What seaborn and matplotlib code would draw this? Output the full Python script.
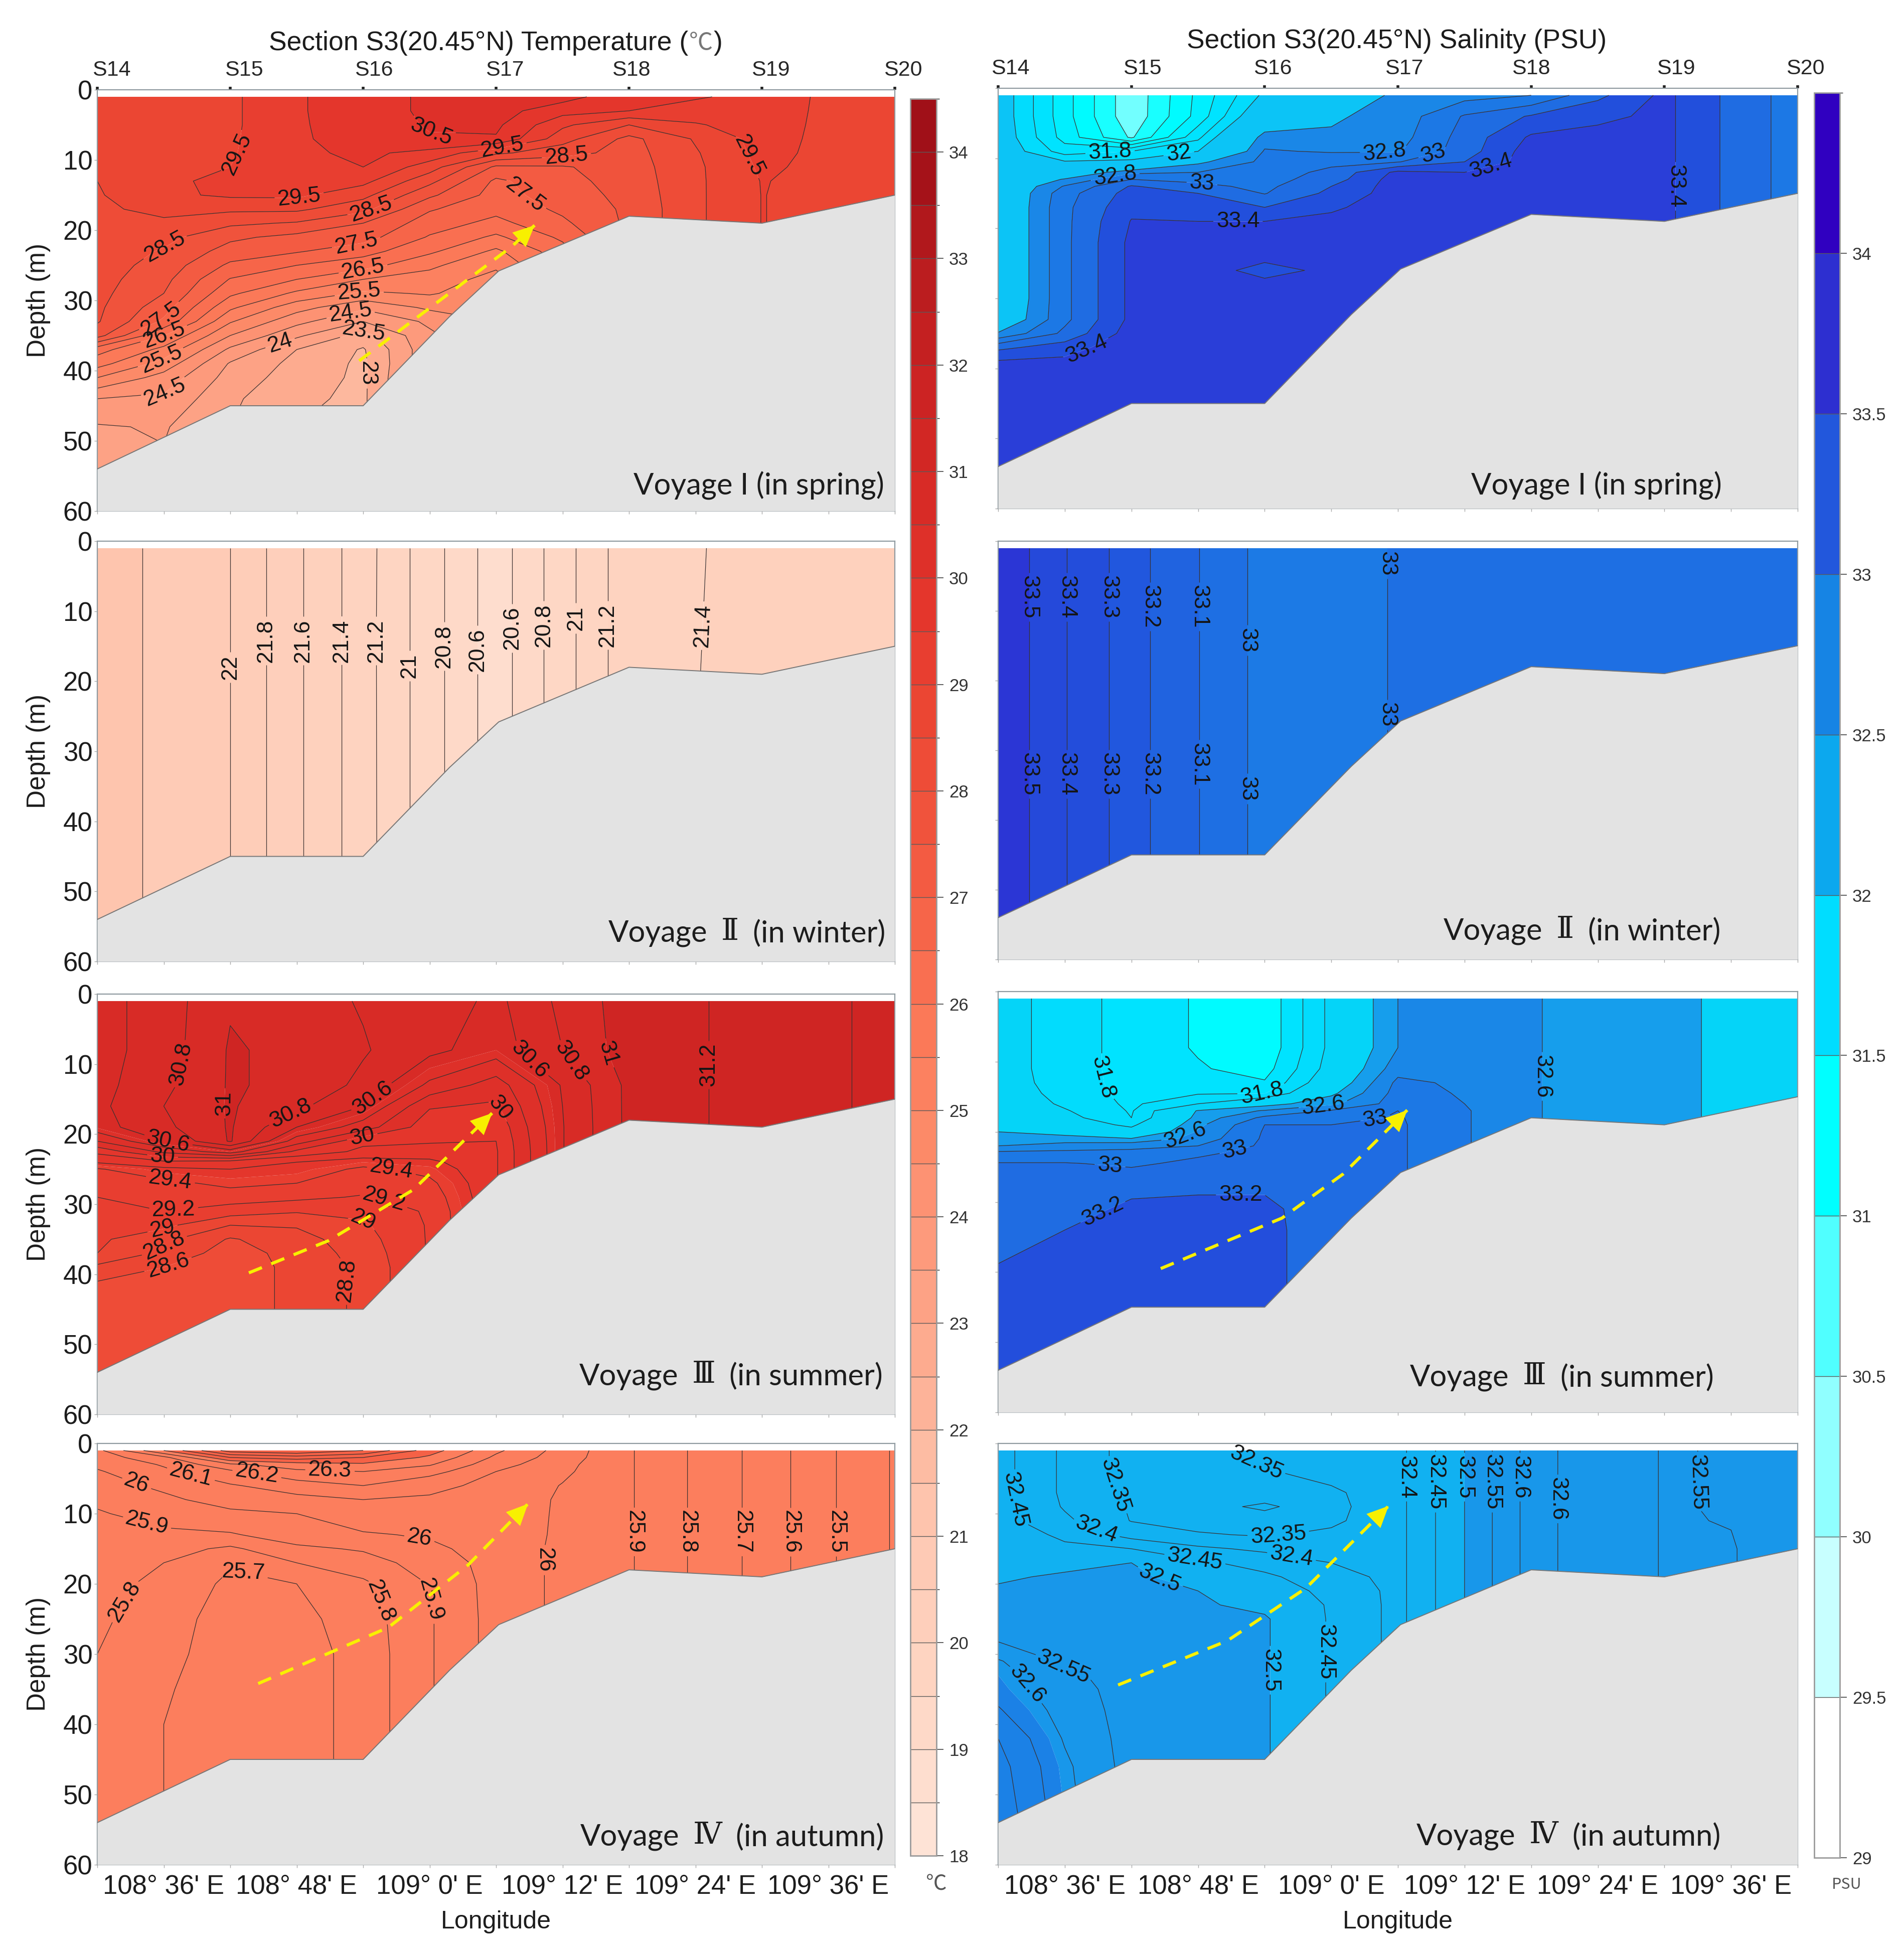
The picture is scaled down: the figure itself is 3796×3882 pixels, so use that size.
import numpy as np
import seaborn as sns
import matplotlib.pyplot as plt
from matplotlib.cm import ScalarMappable
from matplotlib.colors import BoundaryNorm, LinearSegmentedColormap, ListedColormap, Normalize
from matplotlib.transforms import ScaledTranslation

sns.set_theme(style="white")
plt.rcParams["font.family"] = ["Liberation Sans", "Noto Sans CJK SC"]
plt.rcParams["axes.unicode_minus"] = False

W, H = 3796, 3882

# x positions are station numbers counted from S14
half_st = [0, .5, 1, 1.5, 2, 2.5, 3, 3.5, 4, 4.5, 5, 5.5, 6]
stations = ["S14", "S15", "S16", "S17", "S18", "S19", "S20"]
lon_labels = ["108° 36' E", "108° 48' E", "109° 0' E", "109° 12' E", "109° 24' E", "109° 36' E"]
bottom_st = [0, 1, 2, 2.65, 3.02, 4, 5, 6]
bottom_depth = [54, 45, 45, 32.3, 25.8, 18, 19, 15]

# ---- temperature, voyage I
t1_z = [1, 3, 5, 7, 9, 11, 13, 15, 17, 19, 21, 23, 25, 27, 29, 31, 33, 35, 37, 39, 41, 44, 48, 60]
t1_cols = [
    [29.3, 29.3, 29.3, 29.25, 29.2, 29.1, 29, 28.95, 28.9, 28.85, 28.8, 28.8, 28.75, 28.7, 28.65, 28.6, 28.55, 28.2, 26.7, 26.2, 25.5, 24.5, 23.95, 23.9],
    [29.4, 29.4, 29.4, 29.4, 29.4, 29.4, 29.42, 29.4, 29.15, 28.9, 28.65, 28.45, 28.3, 28.15, 28, 27.72, 27.4, 26.5, 25.85, 25.3, 24.8, 24.4, 24.05, 23.8],
    [29.4, 29.4, 29.4, 29.42, 29.45, 29.5, 29.6, 29.58, 29.1, 28.6, 28.1, 27.8, 27.4, 26.97, 26.6, 26.1, 25.55, 25, 24.4, 23.95, 23.8, 23.6, 23.5, 23.4],
    [29.95, 29.95, 29.95, 29.95, 29.9, 29.8, 29.7, 29.6, 29.1, 28.45, 27.85, 27.55, 27, 26.5, 25.9, 25.2, 24.65, 24.1, 23.5, 23.35, 23.25, 23.1, 23, 23],
    [30.25, 30.25, 30.2, 30.15, 30.1, 30, 29.65, 29.15, 28.65, 28, 27.7, 27.2, 26.7, 26, 25.4, 24.6, 24, 23.3, 22.95, 22.9, 22.9, 22.9, 22.9, 22.9],
    [30.6, 30.6, 30.55, 30.45, 29.85, 29.25, 28.65, 28.1, 27.55, 27.25, 26.95, 26.6, 26.1, 25.8, 25.55, 25.1, 24.6, 24.4, 24.37, 24.4, 24.5, 24.6, 24.6, 24.6],
    [30.75, 30.7, 30.6, 30.45, 29.1, 27.9, 27.4, 27.3, 27.15, 26.85, 26.4, 25.9, 25.6, 25.3, 25.2, 25.1, 25, 25, 25, 25, 25, 25, 25, 25],
    [30.7, 30.2, 29.6, 29.2, 28.7, 27.95, 27.85, 27.75, 27.6, 27.4, 27.1, 26.8, 26.6, 26.5] + [26.5] * 10,
    [30.15, 30, 29, 28.35, 28.3, 28.25, 28.2, 28.15, 28.1] + [28.1] * 15,
    [30.05, 29.8, 29.45, 29.05, 28.95, 28.9] + [28.9] * 18,
    [29.85, 29.8, 29.75, 29.7, 29.65, 29.58, 29.52] + [29.51] * 17,
    [29.37] * 24,
    [29.3] * 24,
]
t1_levels = [23, 23.5, 24, 24.5, 25, 25.5, 26, 26.5, 27, 27.5, 28, 28.5, 29, 29.5, 30, 30.5]
t1_fill = [22, 23, 23.5, 24, 24.5, 25, 25.5, 26, 26.5, 27, 27.5, 28, 28.5, 29, 29.5, 30, 30.5, 31]
t1_labels = [(29.5, 1.07, 9.3), (30.5, 2.51, 6.8), (29.5, 3.05, 8.5), (28.5, 3.53, 9.5), (29.5, 4.89, 9.5),
             (29.5, 1.52, 15.4), (27.5, 3.22, 15), (28.5, 2.07, 17.5), (28.5, .49, 21.8), (27.5, 1.95, 22),
             (26.5, 2.0, 25.6), (25.5, 1.97, 28.8), (24.5, 1.9, 31.3), (23.5, 2.0, 34.8), (24, 1.37, 35.8),
             (23, 2.04, 40.4), (27.5, .48, 32.6), (26.5, .51, 35.2), (25.5, .48, 38.3), (24.5, .49, 42.6)]
t1_arrow = ([1.97, 3.12, 3.29], [38.6, 22.3, 19.3])

# ---- temperature, voyage II
t2_st = [0, .34, 1, 1.27, 1.55, 1.84, 2.1, 2.35, 2.61, 2.86, 2.99, 3.12, 3.36, 3.6, 3.84, 4.88, 6]
t2_z = [1, 60]
t2_top = [22.3, 22.2, 22, 21.8, 21.6, 21.4, 21.2, 21, 20.8, 20.6, 20.5, 20.6, 20.8, 21, 21.2, 21.48, 21.55]
t2_deep = [22.3, 22.2, 22, 21.8, 21.6, 21.4, 21.2, 21, 20.8, 20.6, 20.5, 20.6, 20.8, 21, 21.2, 21.55, 21.6]
t2_levels = [20.6, 20.8, 21, 21.2, 21.4, 21.6, 21.8, 22, 22.2]
t2_fill = [20, 20.6, 20.8, 21, 21.2, 21.4, 21.6, 21.8, 22, 22.2, 23]
t2_labels = [(22, 1.0, 18), (21.8, 1.27, 14.2), (21.6, 1.55, 14.2), (21.4, 1.84, 14.2), (21.2, 2.1, 14.2),
             (21, 2.35, 17.8), (20.8, 2.61, 15), (20.6, 2.86, 15.5), (20.6, 3.12, 12.4), (20.8, 3.36, 12),
             (21, 3.6, 11), (21.2, 3.84, 12), (21.4, 4.48, 12)]

# ---- temperature, voyage III
t3_z = [1, 8, 13, 16, 19, 21, 22.5, 24, 25, 27, 29, 31, 33, 35, 37, 39, 41, 44, 60]
t3_cols = [
    [30.52, 30.52, 30.53, 30.55, 30.52, 30.2, 29.85, 29.62, 29.38, 29.3, 29.2, 29.12, 29.08, 29.04, 29, 28.75, 28.6, 28.58, 28.5],
    [30.7, 30.7, 30.75, 30.8, 30.75, 30.6, 30.25, 29.75, 29.55, 29.35, 29.25, 29.2, 29.05, 28.85, 28.75, 28.6, 28.58, 28.55, 28.5],
    [30.98, 31.02, 31.02, 31.02, 31.02, 31.02, 30.5, 29.7, 29.6, 29.45, 29.3, 29.1, 28.8, 28.58, 28.5, 28.5, 28.5, 28.5, 28.5],
    [30.9, 30.95, 30.95, 30.85, 30.6, 30.3, 29.95, 29.6, 29.55, 29.4, 29.25, 29.02, 28.82, 28.72, 28.68, 28.65, 28.65, 28.65, 28.65],
    [30.78, 30.82, 30.75, 30.6, 30.3, 29.85, 29.75, 29.5, 29.35, 29.3, 29.18, 29.05, 28.97, 28.92, 28.88, 28.85, 28.85, 28.85, 28.85],
    [30.72, 30.65, 30.36, 30.02, 29.88, 29.82, 29.72, 29.55, 29.47, 29.35, 29.28, 29.23] + [29.22] * 7,
    [30.55, 30.5, 30.1, 29.97, 29.85, 29.8] + [29.78] * 13,
    [30.85, 30.8, 30.62, 30.6, 30.59] + [30.59] * 14,
    [31.1, 31.1] + [31.05] * 17,
    [31.18] * 19,
    [31.28] * 19,
    [31.28] * 19,
    [31.05] * 19,
]
t3_levels = [28.6, 28.8, 29, 29.2, 29.4, 29.6, 29.8, 30, 30.2, 30.4, 30.6, 30.8, 31, 31.2]
t3_fill = [28, 28.6, 29, 29.5, 30, 30.5, 31, 32]
t3_labels = [(30.8, .66, 10.1), (31, .97, 15.6), (30.8, 1.48, 17.9), (30.6, 2.08, 15.1), (30.6, 3.27, 9),
             (30.8, 3.58, 9.4), (31, 3.8, 8.8), (31.2, 4.59, 10.1), (30, 3.16, 15.1), (30, 1.98, 19.2),
             (30.6, .53, 21.4), (30, .49, 23.4), (29.4, .55, 26.5), (29.2, .57, 30.2), (29, .48, 32.5),
             (28.8, .51, 36.1), (28.6, .54, 39.1), (29.4, 2.22, 24.5), (29.2, 2.17, 28.6), (29, 2.0, 32.3),
             (28.8, 1.84, 40.9)]
t3_arrow = ([1.14, 1.74, 2.38, 2.97], [39.8, 35.2, 27.9, 17])

# ---- temperature, voyage IV
t4_z = [1, 2, 3, 4, 6, 8, 10, 13, 15, 17, 20, 25, 30, 35, 40, 50, 60]
t4_cols = [
    [26.07, 26.05, 26.02, 25.99, 25.96, 25.92, 25.89, 25.87, 25.86, 25.85, 25.84, 25.82, 25.8, 25.78, 25.77, 25.76, 25.75],
    [26.4, 26.17, 26.11, 26.08, 26.02, 25.98, 25.94, 25.88, 25.84, 25.8, 25.77, 25.74, 25.73, 25.71, 25.7, 25.7, 25.7],
    [26.75, 26.5, 26.28, 26.18, 26.09, 26.04, 25.98, 25.89, 25.78, 25.71, 25.68, 25.66, 25.65, 25.65, 25.65, 25.65, 25.65],
    [26.8, 26.55, 26.35, 26.28, 26.15, 26.07, 26, 25.95, 25.88, 25.8, 25.7, 25.67, 25.65, 25.65, 25.65, 25.65, 25.65],
    [26.7, 26.5, 26.38, 26.3, 26.2, 26.1, 26.06, 25.99, 25.91, 25.86, 25.78, 25.75, 25.74, 25.74, 25.74, 25.74, 25.74],
    [26.45, 26.38, 26.31, 26.24, 26.12, 26.09, 26.05, 26.01, 25.98, 25.94, 25.905, 25.89, 25.89, 25.89, 25.89, 25.89, 25.89],
    [26.22, 26.18, 26.14, 26.1, 26.08, 26.07, 26.06, 26.05, 26.04] + [26.04] * 8,
    [26.06, 26.05, 26.03, 26.02, 25.995] + [25.985] * 12,
    [25.91] * 17,
    [25.785] * 17,
    [25.664] * 17,
    [25.515] * 17,
    [25.39] * 17,
]
t4_levels = [25.4, 25.5, 25.6, 25.7, 25.8, 25.9, 26, 26.1, 26.2, 26.3, 26.4, 26.5, 26.6, 26.7]
t4_fill = [25, 26.4, 28]
t4_labels = [(26, .3, 5.5), (26.1, .7, 4.7), (26.2, 1.2, 4.4), (26.3, 1.75, 4.1), (25.9, .37, 11.6), (26, 2.42, 14),
             (25.8, .27, 23.2), (25.7, 1.1, 18.4), (25.8, 2.14, 22.4), (25.9, 2.47, 22.4), (26, 3.34, 16.6),
             (25.9, 4.04, 12.6), (25.8, 4.44, 12.6), (25.7, 4.85, 12.6), (25.6, 5.21, 12.6), (25.5, 5.58, 12.6)]
t4_arrow = ([1.21, 2.19, 2.79, 3.24], [34.2, 26.2, 17.3, 8.6])

# ---- salinity, voyage I
s1_z = [1, 4, 7, 9, 10.5, 12, 13, 14, 15, 17, 19, 22, 24.5, 26, 27.5, 30, 33, 35, 37, 39, 42, 60]
s1_cols = [
    [32.16, 32.16, 32.18, 32.2, 32.25] + [32.3] * 11 + [32.35, 32.62, 33.15, 33.42, 33.6, 33.65],
    [31.48, 31.48, 31.52, 31.7, 32.02, 32.35, 32.62, 32.82, 32.92] + [32.95] * 8 + [33.05, 33.3, 33.45, 33.55, 33.6],
    [30.85, 30.85, 30.97, 31.8, 32.05, 32.75, 33, 33.22, 33.28, 33.35, 33.41] + [33.45] * 6 + [33.5, 33.55, 33.6, 33.62, 33.65],
    [31.45, 31.47, 31.75, 32, 32.55, 32.8, 32.95, 33.05, 33.2, 33.3, 33.4, 33.45, 33.5, 33.6, 33.5, 33.45, 33.45, 33.5, 33.5, 33.5, 33.5, 33.5],
    [32.05, 32.3, 32.7, 32.82, 32.85, 32.9, 32.92, 32.95, 32.99, 33.2, 33.4, 33.45, 33.45, 33.25, 33.45, 33.45, 33.45, 33.5, 33.5, 33.5, 33.5, 33.5],
    [32.4, 32.57, 32.63, 32.78, 32.95, 33.05, 33.1, 33.2, 33.25, 33.37, 33.45] + [33.5] * 11,
    [32.65, 32.68, 32.72, 32.78, 32.99, 33.45] + [33.5] * 16,
    [32.72, 33.02, 33.08, 33.1, 33.2, 33.4] + [33.5] * 16,
    [32.8, 33.22, 33.43] + [33.5] * 19,
    [33.15, 33.35, 33.47] + [33.5] * 19,
    [33.45] * 22,
    [33.15] * 22,
    [32.9] * 22,
]
s1_levels = [31, 31.2, 31.4, 31.6, 31.8, 32, 32.6, 32.8, 33, 33.2, 33.4]
s1_fill = [30, 31, 31.2, 31.4, 31.6, 31.8, 32, 32.6, 32.8, 33, 33.2, 33.4, 34]
s1_labels = [(31.8, .84, 9.2), (32, 1.35, 8.5), (32.8, .88, 12.8), (33, 1.53, 13.5), (33.4, 1.8, 19), (32.8, 2.9, 9.6),
             (33, 3.27, 9.7), (33.4, 3.7, 11.3), (33.4, .66, 37.1), (33.4, 5.05, 14)]

# ---- salinity, voyage II
s2_st = [0, .234, .514, .833, 1.14, 1.51, 1.87, 2.4, 2.92, 6]
s2_z = [1, 60]
s2_row = [33.58, 33.5, 33.4, 33.3, 33.2, 33.1, 33, 32.95, 33, 33.05]
s2_levels = [33, 33.1, 33.2, 33.3, 33.4, 33.5]
s2_fill = [32.7, 33, 33.1, 33.2, 33.3, 33.4, 33.5, 34]
s2_labels = [(33.5, .23, 8), (33.5, .23, 33.4), (33.4, .51, 8), (33.4, .51, 33.4), (33.3, .83, 8), (33.3, .83, 33.4),
             (33.2, 1.14, 9.4), (33.2, 1.14, 33.4), (33.1, 1.51, 9.4), (33.1, 1.51, 32), (33, 1.87, 14.2),
             (33, 1.87, 35.5), (33, 2.92, 3.2), (33, 2.92, 24.9)]

# ---- salinity, voyage III
s3_z = [1, 8, 11, 13, 14.5, 16, 17, 18, 19, 20, 21, 22, 23, 24.5, 27, 29, 31, 34, 37, 40, 44, 60]
s3_cols = [
    [32.1, 32.1, 32.1, 32.12, 32.15, 32.2, 32.22, 32.25, 32.3, 32.4, 32.5, 32.6, 32.85, 33.01, 33.05, 33.07, 33.09, 33.12, 33.17, 33.22, 33.25, 33.3],
    [31.9, 31.9, 31.9, 31.9, 31.92, 31.96, 32.02, 32.08, 32.15, 32.3, 32.5, 32.68, 32.86, 33.01, 33.05, 33.07, 33.1, 33.2, 33.25, 33.27, 33.3, 33.3],
    [31.72, 31.72, 31.72, 31.73, 31.74, 31.76, 31.78, 31.8, 31.95, 32.1, 32.42, 32.75, 32.85, 32.97, 33.1, 33.18, 33.25, 33.28, 33.3, 33.3, 33.3, 33.3],
    [31.58, 31.58, 31.62, 31.68, 31.78, 32, 32.42, 32.47, 32.55, 32.62, 32.68, 32.8, 32.97, 33.04, 33.12, 33.2, 33.25, 33.28, 33.3, 33.3, 33.3, 33.3],
    [31.45, 31.45, 31.52, 31.62, 31.79, 32.3, 32.62, 32.85, 33, 33.02, 33.03, 33.04, 33.05, 33.07, 33.13, 33.2, 33.24, 33.25, 33.25, 33.25, 33.25, 33.25],
    [32.06, 32.06, 32.1, 32.2, 32.35, 32.55, 32.82, 32.92, 33, 33.03, 33.04, 33.05, 33.06, 33.08, 33.1, 33.1, 33.1, 33.1, 33.1, 33.1, 33.1, 33.1],
    [32.6, 32.6, 32.72, 32.85, 32.88, 32.9, 33, 33.02] + [33.03] * 14,
    [32.72, 32.74, 32.75, 32.76, 32.78, 32.8] + [32.82] * 16,
    [32.62] * 22,
    [32.5] * 22,
    [32.45] * 22,
    [32.36] * 22,
    [32.3] * 22,
]
s3_levels = [31.6, 31.8, 32, 32.4, 32.6, 32.8, 33, 33.2]
s3_fill = [31, 31.6, 31.8, 32, 32.4, 32.6, 32.8, 33, 33.2, 33.45]
s3_labels = [(31.8, .84, 12.1), (31.8, 1.98, 14.4), (32.6, 2.44, 16.2), (32.6, 1.4, 20.3), (33, 2.83, 18), (33, 1.76, 21.4),
             (33, .84, 24.8), (33.2, 1.82, 28.7), (33.2, .78, 31.2), (32.6, 4.07, 12.1)]
s3_arrow = ([1.22, 2.13, 2.59, 3.07], [39.5, 32.3, 26, 16.9])

# ---- salinity, voyage IV
s4_z = [1, 4, 7, 9, 11, 13, 15, 17, 19, 21, 23, 25, 28, 31, 33, 35, 38, 42, 46, 60]
s4_cols = [
    [32.47, 32.47, 32.47, 32.47, 32.47, 32.48, 32.49, 32.49, 32.495, 32.505, 32.51, 32.52, 32.545, 32.605, 32.62, 32.63, 32.655, 32.7, 32.72, 32.75],
    [32.39, 32.39, 32.39, 32.395, 32.41, 32.44, 32.46, 32.49, 32.505, 32.51, 32.515, 32.52, 32.53, 32.54, 32.56, 32.57, 32.58, 32.595, 32.61, 32.63],
    [32.33, 32.33, 32.34, 32.345, 32.348, 32.38, 32.45, 32.5, 32.51, 32.515, 32.52, 32.525] + [32.53] * 8,
    [32.33, 32.32, 32.315, 32.32, 32.33, 32.355, 32.41, 32.46, 32.48, 32.5, 32.505, 32.51, 32.515, 32.52] + [32.52] * 6,
    [32.37, 32.345, 32.33, 32.29, 32.325, 32.345, 32.39, 32.43, 32.46, 32.47, 32.49, 32.505] + [32.505] * 8,
    [32.39, 32.37, 32.34, 32.335, 32.34, 32.36, 32.38, 32.4, 32.42, 32.44, 32.445] + [32.445] * 9,
    [32.385] * 20,
    [32.5] * 20,
    [32.62] * 20,
    [32.57] * 20,
    [32.548] * 20,
    [32.552, 32.552, 32.552, 32.552, 32.551, 32.5495] + [32.548] * 14,
    [32.57] * 20,
]
s4_levels = [32.3, 32.35, 32.4, 32.45, 32.5, 32.55, 32.6, 32.65, 32.7]
s4_fill = [32.2, 32.5, 32.62, 32.9]
s4_labels = [(32.45, .205, 7.9), (32.35, .82, 6.4), (32.35, 1.94, 2.7), (32.35, 2.1, 12.3), (32.4, .74, 12.1),
             (32.45, 1.48, 16.1), (32.4, 2.2, 16.3), (32.5, 1.22, 18.7), (32.55, .49, 31.9), (32.6, .22, 34.2),
             (32.5, 2.08, 32.3), (32.45, 2.46, 29.7), (32.4, 3.09, 4.8), (32.45, 3.3, 5.5), (32.5, 3.52, 4.8),
             (32.55, 3.72, 5.5), (32.6, 3.93, 4.8), (32.6, 4.19, 7.9), (32.55, 5.35, 5.5)]
s4_arrow = ([.9, 1.72, 2.31, 2.93], [34.4, 28.1, 20.6, 8.9])

# colours
temp_colors = ["#FEE6DA", "#FEDCCC", "#FED2BE", "#FEC8B2", "#FDB89E", "#FDA78A", "#FD9678", "#FC8664", "#FB7555",
               "#F56046", "#EF5039", "#EA4332", "#E2332A", "#D62925", "#C92222", "#B81C1E", "#A01018"]
temp_cmap = sns.blend_palette(temp_colors, n_colors=256, as_cmap=True)
temp_norm = Normalize(18, 34)
spring_norm = Normalize(18.5, 34.5)
winter_norm = Normalize(19.4, 35.4)
autumn_norm = Normalize(18.2, 34.2)
sal_nodes = [29, 29.5, 29.75, 30.25, 30.75, 31.25, 31.75, 32.2, 32.3, 32.35, 32.55, 32.8, 33.1, 33.3, 33.7, 34.25, 34.5]
sal_colors = ["#FFFFFF", "#E0FFFF", "#C8FFFF", "#90FFFF", "#50FFFF", "#00FFFF", "#00E0FF", "#05D4F8", "#0CC4F6",
              "#12AEF0", "#1898EA", "#1B7EE6", "#1F6CE2", "#2250DC", "#2A3ED8", "#3000C0", "#3000C0"]
sal_cmap = LinearSegmentedColormap.from_list("sal", [((v - 29) / 5.5, c) for v, c in zip(sal_nodes, sal_colors)])
sal_norm = Normalize(29, 34.5)
sal_bar_colors = ["#FFFFFF", "#C8FFFF", "#90FFFF", "#50FFFF", "#00FFFF", "#00DDFF", "#0CA8EE", "#1684E4",
                  "#2257DC", "#2D2FD0", "#3000C0"]

LINE = "#3a3030"
SPINE = "#8f9aa0"
LABEL_FS = 32
TICK_FS = 38
INK = "#1c1c1c"
LATO = ["Lato", "Noto Sans CJK SC"]


def axes_box(x0, x1, y0, y1):
    return [x0 / W, 1 - y1 / H, (x1 - x0) / W, (y1 - y0) / H]


def voyage_text(ax, x, y, numeral, season):
    # the roman numeral is set in a serif face, so the line is built from three pieces
    if numeral == "I":
        ax.text(x, y, "Voyage I " + season, ha="right", va="center", fontsize=43, color=INK, zorder=8, family=LATO)
        return
    t3 = ax.text(x, y, season, ha="right", va="center", fontsize=43, color=INK, zorder=8, family=LATO)
    t2 = ax.annotate(numeral, xy=(0, .5), xycoords=t3, xytext=(-20, 3), textcoords="offset points", ha="right", va="center",
                     fontsize=43, color=INK, zorder=8, family="DejaVu Serif")
    ax.annotate("Voyage", xy=(0, .5), xycoords=t2, xytext=(-20, -3), textcoords="offset points", ha="right", va="center",
                fontsize=43, color=INK, zorder=8, family=LATO)


def draw_panel(ax, xs, zs, field, levels, fill, labels, cmap, norm, numeral, season, vx, vy, arrow=None, vert_down=True):
    ax.contourf(xs, zs, field, levels=fill, cmap=cmap, norm=norm, zorder=1, extend="both", antialiased=True)
    # one contour set per level so that clabel can be told which level a label sits on
    for lev in levels:
        cs = ax.contour(xs, zs, field, levels=[lev], colors=LINE, linewidths=0.9, zorder=2)
        spots = [(lx, ly) for val, lx, ly in labels if val == lev]
        if spots:
            texts = ax.clabel(cs, manual=spots, inline=True, inline_spacing=6, fontsize=LABEL_FS, fmt="%g",
                              colors="#151515", zorder=5)
            for t in texts:
                # the depth axis runs downward, so the angle comes out mirrored
                rot = -((t.get_rotation() + 180) % 360 - 180)
                if abs(rot) > 80:
                    rot = -abs(rot) if vert_down else abs(rot)
                t.set_rotation(rot)
    ax.fill_between(bottom_st, bottom_depth, 60, color="#E3E3E3", lw=0, zorder=3)
    sns.lineplot(x=bottom_st, y=bottom_depth, ax=ax, color="#777777", lw=1.4, sort=False, estimator=None, zorder=3.5)
    if arrow is not None:
        ax_x, ax_y = arrow
        sns.lineplot(x=ax_x, y=ax_y, ax=ax, color="#F8F000", lw=4.5, sort=False, estimator=None,
                     linestyle=(0, (4.5, 3.2)), zorder=6)
        ax.annotate("", xy=(ax_x[-1], ax_y[-1]), xytext=(ax_x[-2], ax_y[-2]), zorder=7,
                    arrowprops=dict(arrowstyle="-|>,head_length=0.9,head_width=0.42", color="#F8F000", lw=0,
                                    shrinkA=0, shrinkB=0, mutation_scale=34))
    voyage_text(ax, vx, vy, numeral, season)
    ax.set_xlim(0, 6)
    ax.set_ylim(60, 0)
    ax.set_yticks([0, 10, 20, 30, 40, 50, 60])
    ax.set_xticks(half_st[1::2])
    ax.set_xticks(range(7), minor=True)
    ax.tick_params(axis="both", which="both", length=4, width=1, color="#aaaaaa", labelsize=TICK_FS, pad=3,
                   left=True, bottom=True, labelcolor=INK)
    ax.set_xticklabels([])
    for sp in ax.spines.values():
        sp.set_color(SPINE)
        sp.set_linewidth(1.6)
    ax.set_xlabel("")
    ax.set_ylabel("")


def finish_column(axs, left_col, shifts):
    top = axs[0].secondary_xaxis("top")
    top.set_xticks(range(7))
    top.set_xticklabels(stations, fontsize=31)
    top.tick_params(length=4, width=4, color="#222222", pad=10)
    for lab, dx in zip(top.get_xticklabels(), shifts):
        lab.set_transform(lab.get_transform() + ScaledTranslation(dx / 100, 0, axs[0].figure.dpi_scale_trans))
    top.spines["top"].set_color("#555555")
    axs[3].set_xticklabels(lon_labels, fontsize=TICK_FS)
    axs[3].tick_params(axis="x", pad=9)
    axs[3].set_xlabel("Longitude", fontsize=36, color=INK, va="center")
    axs[3].xaxis.set_label_coords(.5, -.136)
    for ax in axs:
        if left_col:
            ax.set_ylabel("Depth (m)", fontsize=37, color=INK, va="center")
            ax.yaxis.set_label_coords(-.074, .5)
        else:
            ax.set_yticklabels([])


def draw_bar(box, bounds, colors, ticks, labels, unit, ux, uy, unit_fs):
    cax = fig.add_axes(box)
    sm = ScalarMappable(norm=BoundaryNorm(bounds, len(colors)), cmap=ListedColormap(colors))
    cb = fig.colorbar(sm, cax=cax, ticks=ticks, spacing="proportional", drawedges=True)
    cb.ax.set_yticklabels(labels)
    cb.ax.tick_params(labelsize=25, length=10, width=1.2, color="#444444", labelcolor="#333333", pad=8, right=True)
    cb.dividers.set_color("#5a5a5a")
    cb.dividers.set_linewidth(1.0)
    cb.outline.set_edgecolor("#9a9a9a")
    cb.outline.set_linewidth(2)
    fig.text(ux / W, 1 - uy / H, unit, fontsize=unit_fs, color="#555555", ha="center", va="center",
             family=["Noto Sans CJK SC", "DejaVu Sans"])


fig = plt.figure(figsize=(W / 100, H / 100), dpi=100)

rows_left = [(179, 1019), (1079, 1917), (1982, 2820), (2878, 3718)]
rows_right = [(176, 1014), (1079, 1913), (1977, 2816), (2878, 3718)]
axs_t = [fig.add_axes(axes_box(194, 1784, *r)) for r in rows_left]
axs_s = [fig.add_axes(axes_box(1990, 3584, *r)) for r in rows_right]

draw_panel(axs_t[0], half_st, t1_z, np.array(t1_cols).T, t1_levels, t1_fill, t1_labels, temp_cmap, spring_norm,
           "I", "(in spring)", 5.92, 56.4, t1_arrow)
draw_panel(axs_t[1], t2_st, t2_z, np.array([t2_top, t2_deep]), t2_levels, t2_fill, t2_labels, temp_cmap, winter_norm,
           "Ⅱ", "(in winter)", 5.93, 56, vert_down=False)
draw_panel(axs_t[2], half_st, t3_z, np.array(t3_cols).T, t3_levels, t3_fill, t3_labels, temp_cmap, temp_norm,
           "Ⅲ", "(in summer)", 5.91, 54.6, t3_arrow, vert_down=False)
draw_panel(axs_t[3], half_st, t4_z, np.array(t4_cols).T, t4_levels, t4_fill, t4_labels, temp_cmap, autumn_norm,
           "Ⅳ", "(in autumn)", 5.92, 56.1, t4_arrow)

draw_panel(axs_s[0], half_st, s1_z, np.array(s1_cols).T, s1_levels, s1_fill, s1_labels, sal_cmap, sal_norm,
           "I", "(in spring)", 5.43, 56.7)
draw_panel(axs_s[1], s2_st, s2_z, np.array([s2_row, s2_row]), s2_levels, s2_fill, s2_labels, sal_cmap, sal_norm,
           "Ⅱ", "(in winter)", 5.42, 56)
draw_panel(axs_s[2], half_st, s3_z, np.array(s3_cols).T, s3_levels, s3_fill, s3_labels, sal_cmap, sal_norm,
           "Ⅲ", "(in summer)", 5.37, 55.1, s3_arrow)
draw_panel(axs_s[3], half_st, s4_z, np.array(s4_cols).T, s4_levels, s4_fill, s4_labels, sal_cmap, sal_norm,
           "Ⅳ", "(in autumn)", 5.42, 56, s4_arrow)

finish_column(axs_t, True, [28, 27, 21, 17, 4, 17, 16])
finish_column(axs_s, False, [24, 22, 16, 12, 0, 23, 15])

# titles; the degree sign glyph comes from the CJK face as in the original
head = fig.text(536 / W, 1 - 86 / H, "Section S3(20.45°N) Temperature (", fontsize=38.5, color=INK, ha="left", va="center")
deg = axs_t[0].annotate("℃", xy=(1, .5), xycoords=head, xytext=(1, 0), textcoords="offset points", ha="left", va="center",
                        fontsize=34, color="#777777", family="Noto Sans CJK SC", annotation_clip=False)
axs_t[0].annotate(")", xy=(1, .5), xycoords=deg, xytext=(1, 0), textcoords="offset points", ha="left", va="center",
                  fontsize=38.5, color=INK, annotation_clip=False)
fig.text(2785 / W, 1 - 82 / H, "Section S3(20.45°N) Salinity (PSU)", fontsize=38.5, color=INK, ha="center", va="center")

temp_bounds = [18 + .5 * i for i in range(34)]
temp_bar = [temp_cmap(temp_norm(b + .25)) for b in temp_bounds[:-1]]
draw_bar(axes_box(1815, 1867, 197, 3700), temp_bounds, temp_bar, list(range(18, 35)), [str(v) for v in range(18, 35)],
         "℃", 1867, 3757, 30)
sal_bounds = [29, 29.5, 30, 30.5, 31, 31.5, 32, 32.5, 33, 33.5, 34, 34.5]
draw_bar(axes_box(3617, 3668, 185, 3704), sal_bounds, sal_bar_colors, sal_bounds[:-1],
         ["29", "29.5", "30", "30.5", "31", "31.5", "32", "32.5", "33", "33.5", "34"], "PSU", 3682, 3758, 22)

fig.savefig("out.png", dpi=100)
